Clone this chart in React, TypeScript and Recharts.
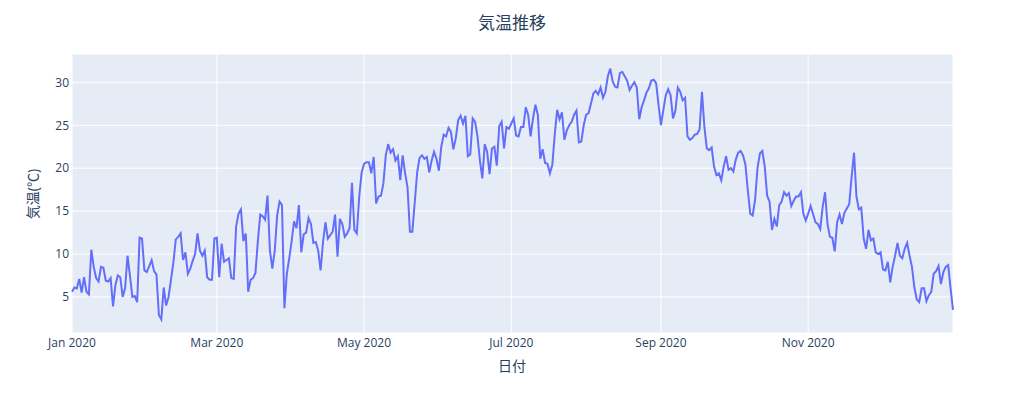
import React from "react";
import { LineChart, Line, XAxis, YAxis, CartesianGrid } from "recharts";

// Daily temperatures 2020 (°C), one array per month
const jan = [5.6,6.1,6.0,7.1,5.5,7.3,5.6,5.3,10.5,8.5,7.2,6.8,8.5,8.4,6.9,6.8,7.2,3.9,6.4,7.5,7.3,5.0,6.0,9.8,7.5,5.0,5.1,4.4,11.9,11.8,8.1];
const feb = [7.9,8.6,9.3,8.0,7.6,2.9,2.4,6.1,4.0,5.0,7.0,9.0,11.7,12.0,12.4,9.3,10.2,7.7,8.3,9.2,10.0,12.4,10.4,9.8,10.4,7.3,7.0,7.0,11.8];
const mar = [11.9,7.3,11.2,9.1,9.3,9.5,7.2,7.1,13.2,14.7,15.2,11.5,12.4,5.6,7.0,7.2,7.8,11.5,14.6,14.4,14.0,16.8,10.4,8.3,10.4,14.5,16.1,15.7,3.7,7.7,9.5];
const apr = [11.5,13.8,13.0,15.7,10.2,12.3,12.5,14.2,13.5,11.3,11.4,10.4,8.1,11.4,13.7,11.8,12.2,12.6,14.6,9.7,14.1,13.5,12.0,12.4,13.0,18.3,12.8,12.4,16.7,19.5];
const may = [20.5,20.7,20.7,19.4,21.3,15.9,16.7,16.8,18.2,21.5,22.8,21.8,22.2,20.9,21.4,18.6,21.5,19.4,17.8,12.6,12.6,16.0,19.5,21.2,21.5,21.1,21.3,19.5,20.9,21.9,21.1];
const jun = [19.7,22.5,23.9,23.7,24.7,24.2,22.2,23.5,25.6,26.1,25.2,26.1,21.4,21.6,25.8,25.4,23.7,20.9,18.8,22.8,21.9,19.3,22.3,22.5,20.3,24.9,25.4,22.3,24.8,24.6];
const jul = [25.2,25.8,23.8,23.7,24.8,24.8,27.1,26.2,23.7,25.8,27.4,26.2,21.1,22.2,20.6,20.5,19.4,20.4,23.9,26.8,25.7,26.5,23.3,24.4,25.0,25.4,26.2,26.7,23.0,23.1,25.0];
const aug = [26.2,26.4,27.5,28.7,29.0,28.6,29.4,28.2,28.9,30.7,31.6,30.1,29.5,29.4,31.1,31.2,30.7,30.2,29.1,29.6,30.0,29.4,25.7,27.1,27.9,28.8,29.3,30.2,30.3,29.9,27.4];
const sep = [25.0,26.8,28.5,29.2,28.5,25.8,26.7,29.4,28.9,27.9,28.2,23.7,23.3,23.5,23.9,24.0,24.5,28.9,24.8,22.3,22.1,22.4,20.2,19.2,19.4,18.6,20.2,21.4,19.8,20.0];
const oct = [19.6,21.0,21.8,22.0,21.5,20.4,17.4,14.7,14.5,16.3,20.0,21.7,22.0,20.2,16.8,16.1,12.8,14.1,13.2,15.7,16.1,17.2,16.8,17.1,15.6,16.2,16.7,16.7,17.2,14.7,13.9];
const nov = [14.7,15.6,14.7,13.7,13.5,12.9,15.5,17.2,13.5,12.0,11.9,10.3,13.7,14.6,13.5,14.8,15.3,15.8,19.0,21.8,16.7,15.2,15.4,11.8,10.6,12.8,11.6,11.8,10.2,10.0];
const dec = [10.2,8.2,8.1,9.1,6.7,8.5,9.8,11.3,9.8,9.5,10.6,11.3,9.8,8.5,6.1,4.7,4.4,6.0,6.0,4.5,5.2,5.6,7.7,8.0,8.6,6.5,7.9,8.5,8.7,6.0,3.5];

const tickMonths = [0, 2, 4, 6, 8, 10];
const tickLabels = ["Jan 2020", "Mar 2020", "May 2020", "Jul 2020", "Sep 2020", "Nov 2020"];
const yTicks = [5, 10, 15, 20, 25, 30];

const DAY = 86400000;
const START = Date.UTC(2020, 0, 1);
const temps = [...jan, ...feb, ...mar, ...apr, ...may, ...jun, ...jul, ...aug, ...sep, ...oct, ...nov, ...dec];
const data = temps.map((v, i) => ({ t: i, v }));
const xTicks = tickMonths.map((m) => Math.round((Date.UTC(2020, m, 1) - START) / DAY));
const labelFor = (t: number) => {
  const i = xTicks.indexOf(t);
  return i >= 0 ? tickLabels[i] : "";
};

const FONT = '"Open Sans", "Noto Sans CJK JP", verdana, arial, sans-serif';
const TXT = "#2a3f5f";

export default function App() {
  return (
    <div style={{ position: "absolute", left: 0, top: 0, width: 1024, height: 405, background: "#fff", fontFamily: FONT }}>
      <LineChart width={1024} height={405} data={data} margin={{ top: 54, right: 71, bottom: 0, left: 0 }}>
        <CartesianGrid fill="#E5ECF6" stroke="#ffffff" strokeWidth={1} />
        <XAxis
          type="number"
          dataKey="t"
          domain={[0, 365]}
          ticks={xTicks}
          tickFormatter={labelFor}
          height={72}
          axisLine={false}
          tickLine={false}
          tickSize={0}
          tickMargin={5}
          interval={0}
          tick={{ fill: TXT, fontSize: 12, fontFamily: FONT }}
        />
        <YAxis
          type="number"
          domain={[0.8, 33.3]}
          allowDataOverflow
          ticks={yTicks}
          width={72}
          axisLine={false}
          tickLine={false}
          tickSize={0}
          tickMargin={3}
          interval={0}
          tick={{ fill: TXT, fontSize: 12, fontFamily: FONT }}
        />
        <Line type="linear" dataKey="v" stroke="#636efa" strokeWidth={2} dot={false} isAnimationActive={false} />
      </LineChart>
      <div style={{ position: "absolute", left: 512, top: 20.5, transform: "translate(-50%,-50%)", fontSize: 17, color: TXT, whiteSpace: "nowrap" }}>
        気温推移
      </div>
      <div style={{ position: "absolute", left: 512, top: 365, transform: "translate(-50%,-50%)", fontSize: 14, color: TXT, whiteSpace: "nowrap" }}>
        日付
      </div>
      <div style={{ position: "absolute", left: 32, top: 194, transform: "translate(-50%,-50%) rotate(-90deg)", fontSize: 14, color: TXT, whiteSpace: "nowrap" }}>
        気温(℃)
      </div>
    </div>
  );
}
